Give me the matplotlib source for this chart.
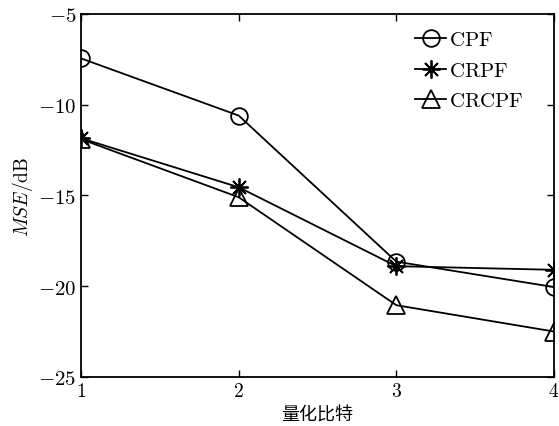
import matplotlib
matplotlib.use("Agg")
import matplotlib.pyplot as plt

plt.rcParams['mathtext.fontset'] = 'cm'
plt.rcParams['font.family'] = ['DejaVu Serif']

bits = [1, 2, 3, 4]
cpf = [-7.45, -10.6, -18.65, -20.05]
crpf = [-11.85, -14.55, -18.9, -19.1]
crcpf = [-11.9, -15.1, -21.05, -22.5]
xticks = [1, 2, 3, 4]
yticks = [-25, -20, -15, -10, -5]

fig = plt.figure(figsize=(5.59, 4.27), dpi=100)
ax = fig.add_axes([0.145, 0.115, 0.846, 0.85])

kw = dict(color='black', linewidth=1.3, markerfacecolor='none', markeredgecolor='black', markeredgewidth=1.3)
ax.plot(bits, cpf, marker='o', markersize=12, label=r'$\mathrm{CPF}$', **kw)
ax.plot(bits, crpf, marker=(8, 2, 0), markersize=13, label=r'$\mathrm{CRPF}$', **kw)
ax.plot(bits, crcpf, marker='^', markersize=13, label=r'$\mathrm{CRCPF}$', **kw)

ax.set_xlim(1, 4)
ax.set_ylim(-25, -5)
ax.set_xticks(xticks)
ax.set_xticklabels([rf'${v}$' for v in xticks], fontsize=14)
ax.set_yticks(yticks)
ax.set_yticklabels([rf'${v}$' for v in yticks], fontsize=15)
ax.tick_params(direction='in', top=True, right=True, length=5, width=1)
for s in ax.spines.values():
    s.set_linewidth(1.3)

ax.set_xlabel('量化比特', fontsize=13, family=['Noto Sans CJK SC', 'DejaVu Sans'], labelpad=4)
ax.set_ylabel(r'$MSE/\mathrm{dB}$', fontsize=14, labelpad=2)

leg = ax.legend(loc='upper right', frameon=False, fontsize=15, handlelength=1.5,
                handletextpad=0.1, labelspacing=0.55, borderaxespad=0.3,
                bbox_to_anchor=(0.965, 0.995))

fig.savefig('out.png', dpi=100)
